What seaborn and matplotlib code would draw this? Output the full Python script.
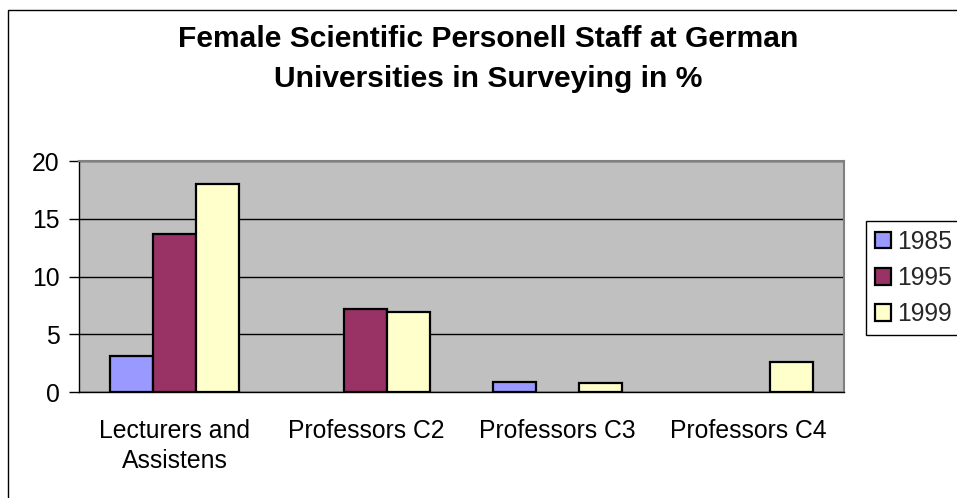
import matplotlib
matplotlib.use("Agg")
import matplotlib.pyplot as plt
import matplotlib.patches as mpatches
import seaborn as sns
import pandas as pd
import numpy as np

categories = ["Lecturers and\nAssistens", "Professors C2", "Professors C3", "Professors C4"]
years = ["1985", "1995", "1999"]
values_1985 = [3.1, np.nan, 0.9, np.nan]
values_1995 = [13.7, 7.2, np.nan, np.nan]
values_1999 = [18.0, 6.9, 0.75, 2.6]
y_ticks = [0, 5, 10, 15, 20]
title_lines = ["Female Scientific Personell Staff at German", "Universities in Surveying in %"]
colors = ["#9999FF", "#993366", "#FFFFCC"]

rows = []
for yr, vals in zip(years, [values_1985, values_1995, values_1999]):
    for c, v in zip(categories, vals):
        rows.append({"category": c, "year": yr, "value": v})
df = pd.DataFrame(rows)

sns.set_theme(style="white")
plt.rcParams["font.family"] = ["Liberation Sans", "DejaVu Sans"]

W, H = 957, 498
fig = plt.figure(figsize=(W / 100, H / 100), dpi=100)
fig.patch.set_facecolor("white")

# outer chart border (cropped at right/bottom)
fig.add_artist(mpatches.Rectangle((8 / W, -0.1), 1.2, 1 - 10 / H + 0.1,
                                  transform=fig.transFigure, fill=False,
                                  edgecolor="black", linewidth=1.0))

left, right, top, bottom = 79, 844, 161, 392
ax = fig.add_axes([left / W, 1 - bottom / H, (right - left) / W, (bottom - top) / H])
ax.set_facecolor("#C0C0C0")

sns.barplot(data=df, x="category", y="value", hue="year", hue_order=years,
            order=categories, palette=colors, width=0.675,
            edgecolor="black", linewidth=1.6, saturation=1, ax=ax, zorder=3,
            errorbar=None)

ax.set_ylim(0, 20)
ax.set_xlim(-0.5, len(categories) - 0.5)
ax.set_yticks(y_ticks)
ax.set_yticklabels([str(t) for t in y_ticks])
ax.yaxis.grid(True, color="black", linewidth=1.0, zorder=1)
ax.set_axisbelow(True)
ax.set_xlabel("")
ax.set_ylabel("")

ax.set_xticks(np.arange(len(categories)))
ax.set_xticklabels(categories, linespacing=1.3)
ax.set_xticks(np.arange(len(categories) + 1) - 0.5, minor=True)
ax.tick_params(axis="x", which="major", length=0, pad=19.5, labelsize=17.8, colors="black")
ax.tick_params(axis="x", which="minor", length=7, width=1, color="black", direction="out")
ax.tick_params(axis="y", which="major", length=7, width=1, color="black",
               direction="out", pad=7, labelsize=17.8, labelcolor="black", left=True)

for s in ["left", "bottom"]:
    ax.spines[s].set_color("black")
    ax.spines[s].set_linewidth(1.0)
for s in ["top", "right"]:
    ax.spines[s].set_color("#808080")
    ax.spines[s].set_linewidth(1.5)

leg = ax.get_legend()
if leg is not None:
    leg.remove()
handles = [mpatches.Patch(facecolor=c, edgecolor="black", linewidth=1.6, label=y)
           for c, y in zip(colors, years)]
fig.legend(handles=handles, loc="upper left", bbox_to_anchor=(866 / W, 1 - 221 / H),
           bbox_transform=fig.transFigure, frameon=True, fancybox=False,
           edgecolor="black", fontsize=17.8, handlelength=0.65, handleheight=0.65,
           handletextpad=0.25, borderpad=0.35, labelspacing=0.5, borderaxespad=0,
           framealpha=1)
fig.legends[0].get_frame().set_linewidth(1.0)

fig.text(488 / W, 1 - 47 / H, title_lines[0], ha="center", va="baseline",
         fontsize=21.6, fontweight="bold", color="black")
fig.text(488 / W, 1 - 87 / H, title_lines[1], ha="center", va="baseline",
         fontsize=21.6, fontweight="bold", color="black")

fig.savefig("out.png", dpi=100)
